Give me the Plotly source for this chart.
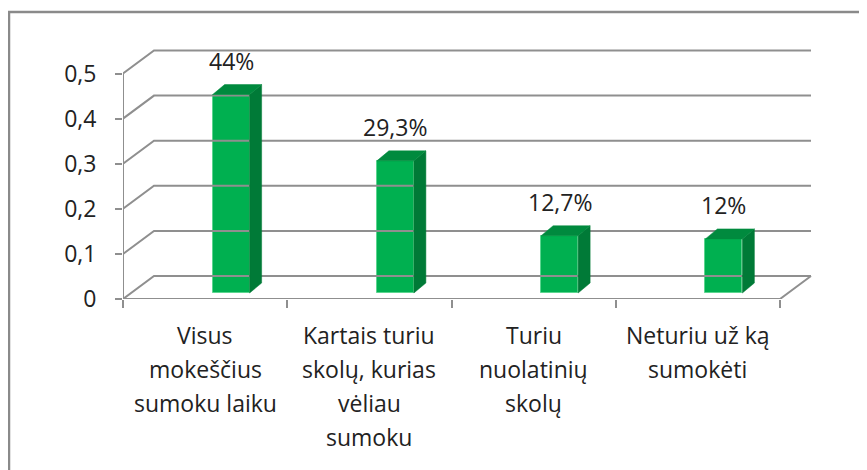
import plotly.graph_objects as go

# ---- data ----
category_labels = [
    "Visus<br>mokeščius<br>sumoku laiku",
    "Kartais turiu<br>skolų, kurias<br>vėliau<br>sumoku",
    "Turiu<br>nuolatinių<br>skolų",
    "Neturiu už ką<br>sumokėti",
]
values = [0.44, 0.293, 0.127, 0.12]
value_labels = ["44%", "29,3%", "12,7%", "12%"]
y_tick_values = [0, 0.1, 0.2, 0.3, 0.4, 0.5]
y_tick_labels = ["0", "0,1", "0,2", "0,3", "0,4", "0,5"]

# ---- geometry of the pseudo-3D look (axis units) ----
PX_X = 164.25          # px per category unit
PX_Y = 451.0           # px per value unit
DX = 31 / PX_X         # wall depth, x
DY = 23 / PX_Y         # wall depth, y
BAR_W = 37 / PX_X
BAR_DX = 12 / PX_X     # bar depth
BAR_DY = 10 / PX_Y
BAR_SHIFT = 26 / PX_X
BAR_BASE = 6 / PX_Y

FONT = "Open Sans, Noto Sans, sans-serif"
FS = 23
GRID = "#8f8f8f"
TXT = "#222222"
n = len(values)
x_lo, x_hi = -0.5, n - 0.5
ymax = y_tick_values[-1]

fig = go.Figure()

# walls / gridlines
gx, gy = [], []
for v in y_tick_values:
    gx += [x_lo, x_lo + DX, x_hi + DX, None]
    gy += [v, v + DY, v + DY, None]
gx += [x_lo, x_lo, None, x_lo, x_hi, x_hi + DX, None]
gy += [ymax, 0, None, 0, 0, DY, None]
fig.add_trace(go.Scatter(x=gx, y=gy, mode="lines", line=dict(color=GRID, width=2),
                         hoverinfo="skip", showlegend=False))

# bars (front faces)
bx = [i + BAR_SHIFT for i in range(n)]
fig.add_trace(go.Bar(x=bx, y=values, base=[BAR_BASE] * n, width=BAR_W,
                     marker=dict(color="#00B050", line=dict(color="#5cd58f", width=1)),
                     showlegend=False, hoverinfo="skip"))

# side and top faces
sx, sy, tx, ty = [], [], [], []
for xc, v in zip(bx, values):
    xl, xr = xc - BAR_W / 2, xc + BAR_W / 2
    b, t = BAR_BASE, BAR_BASE + v
    sx += [xr, xr, xr + BAR_DX, xr + BAR_DX, xr, None]
    sy += [b, t, t + BAR_DY, b + BAR_DY, b, None]
    tx += [xl, xr, xr + BAR_DX, xl + BAR_DX, xl, None]
    ty += [t, t, t + BAR_DY, t + BAR_DY, t, None]
fig.add_trace(go.Scatter(x=sx, y=sy, mode="lines", fill="toself", fillcolor="#007A37",
                         line=dict(color="#007A37", width=0.5), hoverinfo="skip", showlegend=False))
fig.add_trace(go.Scatter(x=tx, y=ty, mode="lines", fill="toself", fillcolor="#008A3E",
                         line=dict(color="#008A3E", width=0.5), hoverinfo="skip", showlegend=False))

annotations = []
# value labels
for xc, v, lab in zip(bx, values, value_labels):
    annotations.append(dict(x=xc, y=BAR_BASE + v, xref="x", yref="y", text=lab, showarrow=False,
                            yshift=34, font=dict(family=FONT, size=FS, color=TXT)))
# category labels, one annotation per line
for i, lab in enumerate(category_labels):
    for k, line in enumerate(lab.split("<br>")):
        annotations.append(dict(x=i, y=0, xref="x", yref="y", text=line, showarrow=False,
                                yanchor="middle", yshift=-(36 + 34 * k),
                                font=dict(family=FONT, size=FS, color=TXT)))

# page body keeps an 8px margin: figure is laid out 8px up/left of window coords
OFF = 8
plot_left, plot_right, plot_top, plot_bottom = 123 - OFF, 823 - OFF, 40 - OFF, 299 - OFF
W, H = 867 - OFF, 470 - OFF
x_range_hi = x_lo + (plot_right - plot_left) / PX_X
y_range_hi = (plot_bottom - plot_top) / PX_Y

def px_to_paper_x(px):
    return (px - OFF - plot_left) / (plot_right - plot_left)

def px_to_paper_y(py):
    return (plot_bottom - (py - OFF)) / (plot_bottom - plot_top)

fig.update_layout(
    width=W, height=H, autosize=False,
    margin=dict(l=plot_left, r=W - plot_right, t=plot_top, b=H - plot_bottom, pad=0),
    paper_bgcolor="white", plot_bgcolor="white",
    bargap=0, showlegend=False,
    font=dict(family=FONT, size=FS, color=TXT),
    xaxis=dict(range=[x_lo, x_range_hi], showgrid=False, zeroline=False, showline=False,
               tickvals=[x_lo + k for k in range(n + 1)], ticktext=[""] * (n + 1),
               ticks="outside", ticklen=8, tickwidth=2, tickcolor=GRID, fixedrange=True),
    yaxis=dict(range=[0, y_range_hi], showgrid=False, zeroline=False, showline=False,
               tickvals=y_tick_values, ticktext=y_tick_labels, ticks="outside", ticklen=7,
               tickwidth=2, tickcolor=GRID, ticklabelstandoff=14,
               tickfont=dict(family=FONT, size=FS, color=TXT), fixedrange=True),
    annotations=annotations,
    shapes=[dict(type="rect", xref="paper", yref="paper",
                 x0=px_to_paper_x(9), x1=px_to_paper_x(866),
                 y0=px_to_paper_y(12), y1=px_to_paper_y(520),
                 line=dict(color="#8a8a8a", width=2.5), layer="below")],
)

fig.write_html("out.html")
